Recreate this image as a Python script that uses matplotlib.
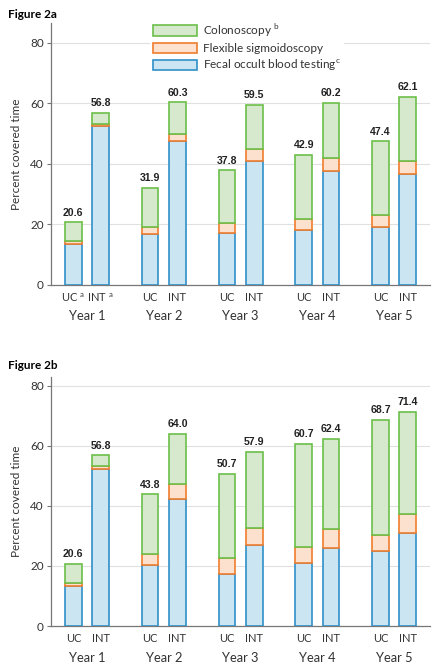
import matplotlib
matplotlib.use("Agg")
import matplotlib.pyplot as plt
import numpy as np
from matplotlib.patches import Patch
from matplotlib.transforms import blended_transform_factory

plt.rcParams['font.family'] = ['Lato', 'DejaVu Sans']
plt.rcParams['mathtext.fontset'] = 'custom'
plt.rcParams['mathtext.rm'] = 'Lato'

years = ['Year 1', 'Year 2', 'Year 3', 'Year 4', 'Year 5']
arms = ['UC', 'INT']

# Figure 2a: stacked components per year, order UC, INT
a_fobt = [13.4, 52.4, 16.8, 47.4, 17.1, 41.0, 18.1, 37.7, 19.2, 36.5]
a_fs = [1.1, 0.9, 2.2, 2.5, 3.2, 3.8, 3.6, 4.3, 3.9, 4.6]
a_total = [20.6, 56.8, 31.9, 60.3, 37.8, 59.5, 42.9, 60.2, 47.4, 62.1]

# Figure 2b
b_fobt = [13.3, 52.3, 20.4, 42.4, 17.4, 26.9, 21.1, 25.9, 25.0, 30.9]
b_fs = [1.1, 0.9, 3.7, 5.0, 5.2, 5.9, 5.2, 6.3, 5.2, 6.5]
b_total = [20.6, 56.8, 43.8, 64.0, 50.7, 57.9, 60.7, 62.4, 68.7, 71.4]

green_edge, green_fill = '#6cbf4a', '#d6e9cc'
orange_edge, orange_fill = '#f07d2e', '#fde1cf'
blue_edge, blue_fill = '#2f90c8', '#cbe5f3'

fig = plt.figure(figsize=(4.39, 6.71), dpi=100)
ax_a = fig.add_axes([0.1155, 0.5757, 0.8645, 0.39])
ax_b = fig.add_axes([0.1155, 0.067, 0.8645, 0.3715])

offset = 0.178
width = 0.217
x = np.repeat(np.arange(len(years)), 2) + np.tile([-offset, offset], len(years))


def draw_panel(ax, fobt, fs, total, ymax, first_sup, year_y):
    fobt = np.array(fobt)
    fs = np.array(fs)
    total = np.array(total)
    colo = total - fobt - fs
    lw = 1.2
    ax.bar(x, fobt, width, color=blue_fill, edgecolor=blue_edge, linewidth=lw, zorder=3)
    ax.bar(x, fs, width, bottom=fobt, color=orange_fill, edgecolor=orange_edge, linewidth=lw, zorder=3)
    ax.bar(x, colo, width, bottom=fobt + fs, color=green_fill, edgecolor=green_edge, linewidth=lw, zorder=3)
    for xi, t in zip(x, total):
        ax.annotate(f'{t:.1f}', (xi, t), xytext=(0, 3.5), textcoords='offset points',
                    ha='center', va='bottom', fontsize=7.6, fontweight='bold',
                    family='Liberation Sans', color='#222222')

    ax.set_xlim(-0.473, 4.47)
    ax.set_ylim(0, ymax)
    ax.set_yticks([0, 20, 40, 60, 80])
    ax.yaxis.grid(True, color='#e0e0e0', linewidth=0.8, zorder=0)
    ax.set_axisbelow(True)
    ax.set_xticks(x)
    labels = arms * len(years)
    if first_sup:
        labels[0] = 'UC $^{\\mathrm{a}}$'
        labels[1] = 'INT $^{\\mathrm{a}}$'
    ax.set_xticklabels(labels, fontsize=8, color='#333333')
    ax.tick_params(axis='x', length=0, pad=5)
    ax.tick_params(axis='y', length=3, width=0.8, color='#777777', labelsize=8.5,
                   labelcolor='#333333', direction='out', pad=2)
    for s in ['top', 'right']:
        ax.spines[s].set_visible(False)
    ax.spines['left'].set_color('#777777')
    ax.spines['bottom'].set_color('#777777')
    ax.spines['left'].set_linewidth(0.9)
    ax.spines['bottom'].set_linewidth(0.9)
    ax.set_ylabel('Percent covered time', fontsize=8.5, color='#333333', labelpad=6)

    trans = blended_transform_factory(ax.transData, ax.transAxes)
    for i, yr in enumerate(years):
        ax.text(i, year_y, yr, transform=trans, ha='center', va='center',
                fontsize=9.3, color='#333333')


draw_panel(ax_a, a_fobt, a_fs, a_total, 86.6, True, -0.119)
draw_panel(ax_b, b_fobt, b_fs, b_total, 83.0, False, -0.127)

handles = [
    Patch(facecolor=green_fill, edgecolor=green_edge, linewidth=1.2, label='Colonoscopy $^{\\mathrm{b}}$'),
    Patch(facecolor=orange_fill, edgecolor=orange_edge, linewidth=1.2, label='Flexible sigmoidoscopy'),
    Patch(facecolor=blue_fill, edgecolor=blue_edge, linewidth=1.2, label='Fecal occult blood testing$^{\\mathrm{c}}$'),
]
leg = ax_a.legend(handles=handles, loc='upper left', bbox_to_anchor=(0.261, 1.02),
                  frameon=True, framealpha=1, edgecolor='none', fontsize=8.5,
                  handlelength=3.7, handleheight=1.0, labelspacing=0.35,
                  handletextpad=0.5, borderpad=0.3, borderaxespad=0)
for t in leg.get_texts():
    t.set_color('#333333')
leg.set_zorder(5)

fig.text(0.018, 0.979, 'Figure 2a', fontsize=8.5, fontweight='bold', va='center', ha='left')
fig.text(0.018, 0.455, 'Figure 2b', fontsize=8.5, fontweight='bold', va='center', ha='left')

fig.savefig('out.png', dpi=100)
